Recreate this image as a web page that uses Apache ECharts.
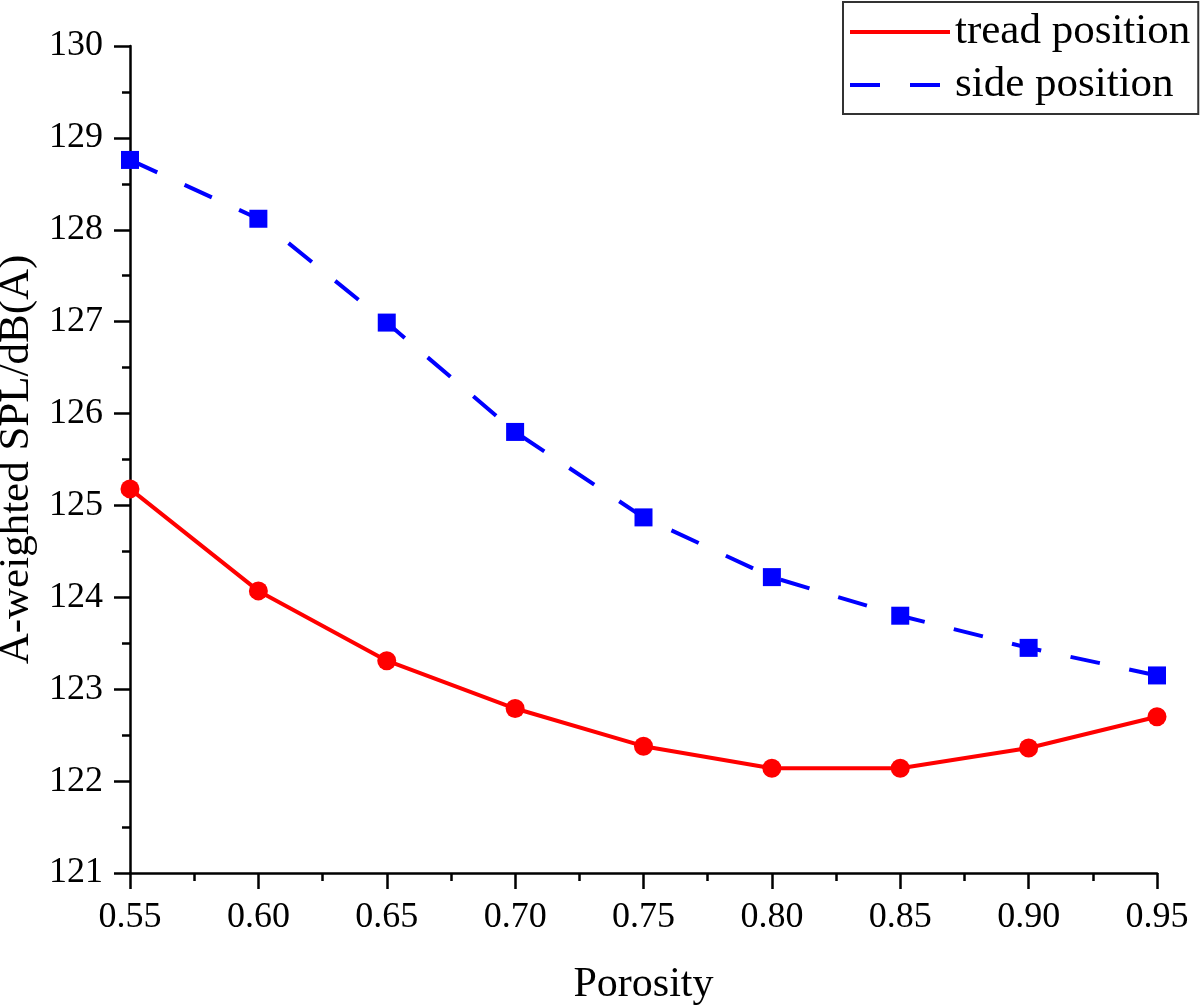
<!DOCTYPE html>
<html>
<head>
<meta charset="utf-8">
<script src="https://cdn.jsdelivr.net/npm/echarts@6/dist/echarts.min.js"></script>
<style>
  html, body { margin: 0; padding: 0; background: #fff; }
  #main { width: 1200px; height: 1008px; }
</style>
</head>
<body>
<div id="main"></div>
<script>
var chartDom = document.getElementById('main');
var myChart = echarts.init(chartDom);
var option;

var porosity = [0.55, 0.60, 0.65, 0.70, 0.75, 0.80, 0.85, 0.90, 0.95];
var treadPosition = [125.18, 124.07, 123.31, 122.79, 122.38, 122.14, 122.14, 122.36, 122.70];
var sidePosition = [128.76, 128.12, 126.99, 125.80, 124.87, 124.22, 123.80, 123.45, 123.15];

var font = 'Liberation Serif';

function pairs(xs, ys) {
  return xs.map(function (x, i) { return [x, ys[i]]; });
}

option = {
  animation: false,
  backgroundColor: '#fff',
  grid: { left: 130, right: 43, top: 46, bottom: 135, outerBoundsMode: 'none', containLabel: false },
  legend: {
    left: 843,
    top: 2,
    orient: 'vertical',
    itemWidth: 100,
    itemHeight: 16,
    itemGap: 9,
    padding: [8, 8, 7, 5],
    borderColor: '#333',
    borderWidth: 2,
    itemStyle: { opacity: 0 },
    lineStyle: { width: 4 },
    textStyle: { fontFamily: font, fontSize: 43, lineHeight: 44, color: '#000' },
    data: ['tread position', 'side position']
  },
  xAxis: {
    type: 'value',
    name: 'Porosity',
    nameLocation: 'middle',
    nameGap: 91,
    nameTextStyle: { fontFamily: font, fontSize: 42, color: '#000' },
    min: 0.55,
    max: 0.95,
    interval: 0.05,
    axisLine: { lineStyle: { color: '#000', width: 2.5 } },
    axisTick: { length: 16, lineStyle: { color: '#000', width: 2.5 } },
    minorTick: { show: true, splitNumber: 2, length: 8, lineStyle: { color: '#000', width: 2.5 } },
    splitLine: { show: false },
    axisLabel: {
      margin: 27,
      fontFamily: font,
      fontSize: 36,
      color: '#000',
      formatter: function (v) { return v.toFixed(2); }
    }
  },
  yAxis: {
    type: 'value',
    name: 'A-weighted SPL/dB(A)',
    nameLocation: 'middle',
    nameGap: 85,
    nameTextStyle: { fontFamily: font, fontSize: 43, color: '#000' },
    min: 121,
    max: 130,
    interval: 1,
    axisLine: { show: true, lineStyle: { color: '#000', width: 2.5 } },
    axisTick: { show: true, length: 16, lineStyle: { color: '#000', width: 2.5 } },
    minorTick: { show: true, splitNumber: 2, length: 8, lineStyle: { color: '#000', width: 2.5 } },
    splitLine: { show: false },
    axisLabel: { margin: 27, fontFamily: font, fontSize: 36, color: '#000' }
  },
  series: [
    {
      name: 'tread position',
      type: 'line',
      data: pairs(porosity, treadPosition),
      symbol: 'circle',
      symbolSize: 19,
      color: '#ff0000',
      lineStyle: { color: '#ff0000', width: 4 },
      itemStyle: { color: '#ff0000' }
    },
    {
      name: 'side position',
      type: 'line',
      data: pairs(porosity, sidePosition),
      symbol: 'rect',
      symbolSize: 18,
      color: '#0000ff',
      lineStyle: { color: '#0000ff', width: 4, type: [30, 30] },
      itemStyle: { color: '#0000ff' }
    }
  ]
};

option && myChart.setOption(option);
</script>
</body>
</html>
